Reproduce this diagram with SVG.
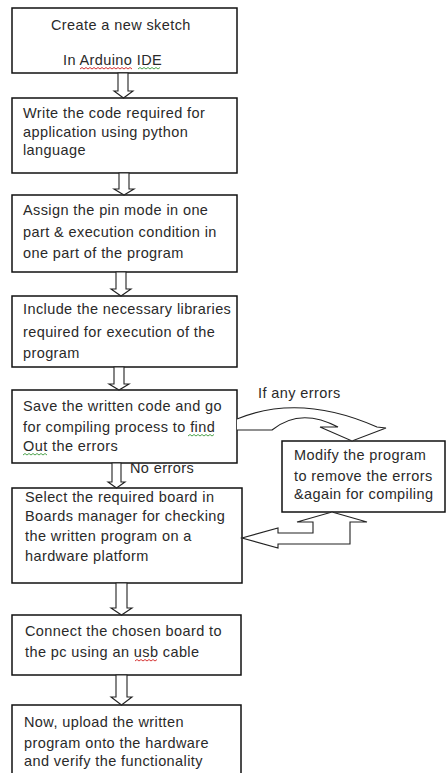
<svg xmlns="http://www.w3.org/2000/svg" width="446" height="773" viewBox="0 0 446 773">
<style>
.box{fill:#fff;stroke:#111;stroke-width:1.5}
.arr{fill:#fff;stroke:#222;stroke-width:1.1;stroke-linejoin:miter}
text{font-family:"Liberation Sans",Arial,sans-serif;font-size:14.5px;letter-spacing:0.4px;fill:#2a2a2a}
.sq{fill:none;stroke-width:0.9}
.red{stroke:#d02020}
.grn{stroke:#3a9a3a}
</style>
<rect width="446" height="773" fill="#fff"/>
<g id="n1">
<rect class="box" x="12" y="8" width="225" height="65"/>
<text x="51" y="30">Create a new sketch</text>
<text x="63" y="65">In Arduino IDE</text>
<path class="sq red" d="M80,69 l2,-1.5 2,1.5 2,-1.5 2,1.5 2,-1.5 2,1.5 2,-1.5 2,1.5 2,-1.5 2,1.5 2,-1.5 2,1.5 2,-1.5 2,1.5 2,-1.5 2,1.5 2,-1.5 2,1.5 2,-1.5 2,1.5 2,-1.5 2,1.5 2,-1.5 2,1.5 2,-1.5 2,1.5"/>
<path class="sq grn" d="M138,69 l2,-1.5 2,1.5 2,-1.5 2,1.5 2,-1.5 2,1.5 2,-1.5 2,1.5 2,-1.5 2,1.5 2,-1.5"/>
</g>
<g id="n2">
<rect class="box" x="12" y="98" width="225" height="75"/>
<text x="23" y="118">Write the code required for</text>
<text x="23" y="137">application using python</text>
<text x="23" y="155">language</text>
</g>
<g id="n3">
<rect class="box" x="12" y="195" width="225" height="77"/>
<text x="23" y="215">Assign the pin mode in one</text>
<text x="23" y="237">part &amp; execution condition in</text>
<text x="23" y="258">one part of the program</text>
</g>
<g id="n4">
<rect class="box" x="12" y="296" width="225" height="71"/>
<text x="23" y="314">Include the necessary libraries</text>
<text x="23" y="337">required for execution of the</text>
<text x="23" y="358">program</text>
</g>
<g id="n5">
<rect class="box" x="12" y="390" width="225" height="73"/>
<text x="23" y="411">Save the written code and go</text>
<text x="23" y="432">for compiling process to find</text>
<text x="23" y="451">Out the errors</text>
<path class="sq grn" d="M188,436 l2,-1.5 2,1.5 2,-1.5 2,1.5 2,-1.5 2,1.5 2,-1.5 2,1.5 2,-1.5 2,1.5 2,-1.5 2,1.5 2,-1.5"/>
<path class="sq grn" d="M23,455 l2,-1.5 2,1.5 2,-1.5 2,1.5 2,-1.5 2,1.5 2,-1.5 2,1.5 2,-1.5 2,1.5 2,-1.5 2,1.5"/>
</g>
<g id="n6">
<rect class="box" x="12" y="488" width="230" height="95"/>
<text x="25" y="502">Select the required board in</text>
<text x="25" y="521">Boards manager for checking</text>
<text x="25" y="541">the written program on a</text>
<text x="25" y="561">hardware platform</text>
</g>
<g id="n7">
<rect class="box" x="12" y="615" width="229" height="60"/>
<text x="25" y="636">Connect the chosen board to</text>
<text x="25" y="657">the pc using an usb cable</text>
<path class="sq red" d="M135,661 l2,-1.5 2,1.5 2,-1.5 2,1.5 2,-1.5 2,1.5 2,-1.5 2,1.5 2,-1.5 2,1.5 2,-1.5"/>
</g>
<g id="n8">
<rect class="box" x="12" y="705" width="229" height="80"/>
<text x="24" y="727">Now, upload the written</text>
<text x="24" y="748">program onto the hardware</text>
<text x="24" y="766">and verify the functionality</text>
</g>
<g id="n9">
<rect class="box" x="282" y="441" width="163" height="71"/>
<text x="294" y="460">Modify the program</text>
<text x="294" y="481">to remove the errors</text>
<text x="294" y="499">&amp;again for compiling</text>
</g>
<g id="connectors">
<polygon class="arr" points="118,73 128,73 128,91 133,91 123.5,98 114,91 118,91"/>
<polygon class="arr" points="119,173 129,173 129,189 134,189 124,195 114,189 119,189"/>
<polygon class="arr" points="116,272 126,272 126,289 131,289 121,296 111,289 116,289"/>
<polygon class="arr" points="114,367 124,367 124,384 129,384 119,390 109,384 114,384"/>
<polygon class="arr" points="112,463 121,463 121,482 125,482 116.5,488 108,482 112,482"/>
<polygon class="arr" points="116,583 127,583 127,608 132,608 121.5,615 111,608 116,608"/>
<polygon class="arr" points="116,675 127,675 127,697 132,697 121.5,705 111,697 116,697"/>
<path class="arr" d="M237,419 Q300,393 377,427 L386,428 L352,441 L320,427 L338,427 Q300,407 272,430 L237,430"/>
<polygon class="arr" points="332,512 367,522 350,522 350,544 278,544 278,548 242,538 278,528 278,533 313,533 313,522 297,522"/>
<text x="258" y="398">If any errors</text>
<text x="130" y="473">No errors</text>
</g>
</svg>
